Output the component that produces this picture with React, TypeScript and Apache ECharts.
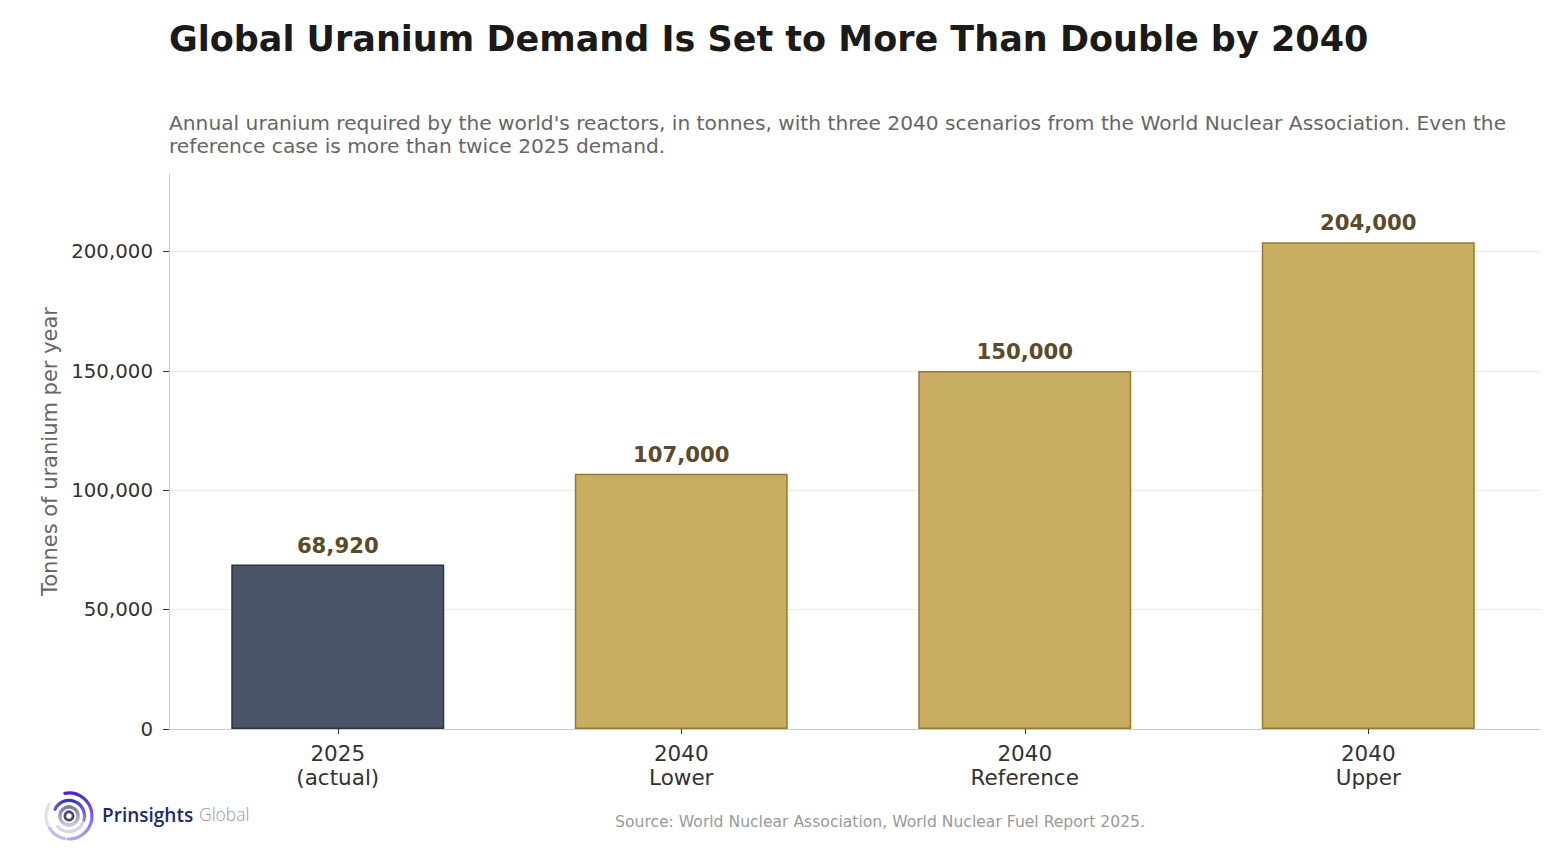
import React, { useEffect, useRef } from "react";
import * as echarts from "echarts";

const categories = ["2025\n(actual)", "2040\nLower", "2040\nReference", "2040\nUpper"];
const values = [68920, 107000, 150000, 204000];
const isActual = [true, false, false, false];
const yTicks = [0, 50000, 100000, 150000, 200000];
const yMax = 232560;

const TITLE = "Global Uranium Demand Is Set to More Than Double by 2040";
const SUBTITLE =
  "Annual uranium required by the world's reactors, in tonnes, with three 2040 scenarios from the World Nuclear Association. Even the\nreference case is more than twice 2025 demand.";
const SOURCE = "Source: World Nuclear Association, World Nuclear Fuel Report 2025.";
const Y_NAME = "Tonnes of uranium per year";

const FONT = "'DejaVu Sans', sans-serif";

export default function App() {
  const ref = useRef<HTMLDivElement>(null);
  useEffect(() => {
    if (!ref.current) return;
    const chart = echarts.init(ref.current, null, { renderer: "svg" });
    const fmt = (v: number) => v.toLocaleString("en-US");
    const cx = 69;
    const cy = 816;
    const arc = (r: number, a0: number, a1: number, stroke: any, w: number) => ({
      type: "arc",
      shape: { cx, cy, r, startAngle: a0, endAngle: a1 },
      style: { stroke, lineWidth: w, fill: "none", lineCap: "round" },
      silent: true,
    });
    const grad = (c0: string, c1: string) =>
      new echarts.graphic.LinearGradient(0, 0, 0, 1, [
        { offset: 0, color: c0 },
        { offset: 1, color: c1 },
      ]);
    chart.setOption({
      animation: false,
      textStyle: { fontFamily: FONT },
      title: [
        {
          text: TITLE,
          left: 164,
          top: 16,
          textStyle: { fontFamily: FONT, fontSize: 35, fontWeight: "bold", color: "#1a1a1a" },
        },
        {
          text: SUBTITLE,
          left: 164,
          top: 106,
          textStyle: { fontFamily: FONT, fontSize: 20.2, fontWeight: "normal", color: "#666666", lineHeight: 23 },
        },
      ],
      grid: { left: 166, right: 14, top: 174, bottom: 131 },
      xAxis: {
        type: "category",
        data: categories,
        axisLine: { show: true, lineStyle: { color: "#cccccc", width: 1 } },
        axisTick: { show: true, alignWithLabel: true, length: 5, lineStyle: { color: "#333333" } },
        axisLabel: { fontFamily: FONT, fontSize: 21.5, color: "#333333", lineHeight: 24, margin: 12 },
      },
      yAxis: {
        type: "value",
        min: 0,
        max: yMax,
        interval: 50000,
        offset: -3,
        name: Y_NAME,
        nameLocation: "middle",
        nameRotate: 90,
        nameGap: 108,
        nameTextStyle: { fontFamily: FONT, fontSize: 21, color: "#666666" },
        axisLine: { show: true, lineStyle: { color: "#cccccc", width: 1 } },
        axisTick: { show: true, length: 6, lineStyle: { color: "#333333" }, customValues: yTicks },
        axisLabel: {
          fontFamily: FONT,
          fontSize: 19.8,
          color: "#333333",
          margin: 16,
          customValues: yTicks,
          formatter: (v: number) => fmt(v),
        },
        splitLine: { show: true, lineStyle: { color: "#ebebeb", width: 1 } },
      },
      series: [
        {
          type: "bar",
          barWidth: "62%",
          data: values.map((v, i) => ({
            value: v,
            itemStyle: isActual[i]
              ? { color: "#4a5567", borderColor: "#2b3445", borderWidth: 1.5 }
              : { color: "#c8ad62", borderColor: "#98792c", borderWidth: 1.5 },
          })),
          label: {
            show: true,
            position: "top",
            distance: 9,
            fontFamily: FONT,
            fontSize: 21.2,
            fontWeight: "bold",
            color: "#5a4b2b",
            formatter: (p: any) => fmt(p.value),
          },
        },
      ],
      graphic: [
        {
          type: "text",
          x: 880,
          y: 822,
          style: {
            text: SOURCE,
            fontFamily: FONT,
            fontSize: 15.6,
            fill: "#999999",
            textAlign: "center",
            textVerticalAlign: "middle",
          },
        },
        arc(23, -1.75, 1.6, grad("#4a1fd8", "#b6a2f2"), 3.2),
        arc(23, 1.75, 2.6, "#c9b8f4", 3.2),
        arc(23, 2.75, 3.7, "#e2e2e6", 3.2),
        arc(15.5, -2.7, 0.3, grad("#3d35c9", "#8f8ae0"), 3.2),
        arc(15.5, 0.45, 2.4, "#d6d6e2", 3.2),
        arc(9, 0, Math.PI * 2, grad("#7f7aa8", "#c9c6dc"), 3.6),
        arc(4.2, 0, Math.PI * 2, "#4d4d5a", 2.8),
        {
          type: "text",
          left: 102,
          top: 805,
          style: { text: "Prinsights", fontFamily: "'Open Sans', sans-serif", fontSize: 19, fontWeight: 600, fill: "#1c2a6e" },
        },
        {
          type: "text",
          left: 199,
          top: 805,
          style: { text: "Global", fontFamily: "'Open Sans', sans-serif", fontSize: 17.5, fontWeight: 300, fill: "#9a9a9a" },
        },
      ],
    });
    return () => chart.dispose();
  }, []);
  return (
    <div
      ref={ref}
      style={{ position: "fixed", left: 0, top: 0, width: 1554, height: 860, background: "#ffffff" }}
    />
  );
}
